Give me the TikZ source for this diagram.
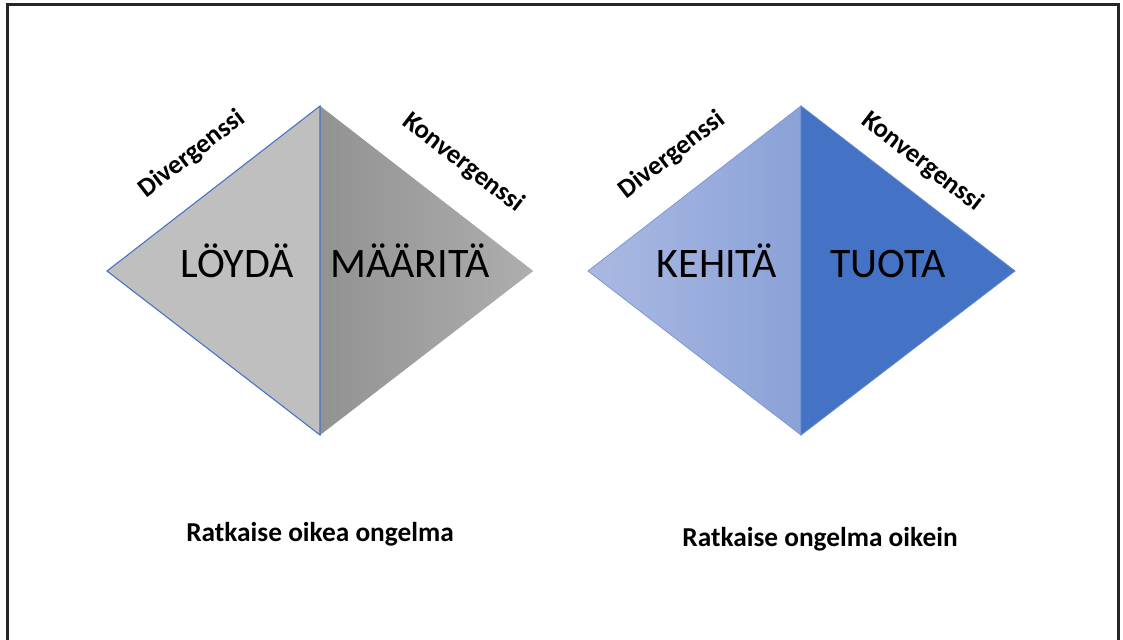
\documentclass[tikz,border=0pt]{standalone}
\usepackage{fontspec}
\setmainfont{Carlito}
\definecolor{greyLight}{HTML}{BFBFBF}
\definecolor{greyDark}{HTML}{929292}
\definecolor{greyMid}{HTML}{AEAEAE}
\definecolor{accent}{HTML}{4472C4}
\definecolor{paleA}{HTML}{AAB9E2}
\definecolor{paleB}{HTML}{8BA2D8}
\begin{document}
\begin{tikzpicture}[x=0.75pt,y=-0.75pt,
  phase/.style={font=\fontsize{31.5}{36}\selectfont, text=black, inner sep=0pt, anchor=base},
  slope/.style={font=\bfseries\fontsize{20}{24}\selectfont, inner sep=0pt},
  caption/.style={font=\bfseries\fontsize{20.5}{24}\selectfont, inner sep=0pt}]
\useasboundingbox (0,0) rectangle (1123,639);
\fill[white] (0,0) rectangle (1123,639);
% outer frame, open at the bottom
\draw[line width=1.6pt, black!85] (7.5,650) -- (7.5,4.5) -- (1118.5,4.5) -- (1118.5,650);

% first diamond
\coordinate (aL) at (107,271);
\coordinate (aT) at (320,106);
\coordinate (aB) at (320,435);
\coordinate (aR) at (533,271);
% soft drop shadow under the right half
\foreach \s in {1,...,6}
  \fill[black, opacity=0.045, shift={(\s*0.8,\s*0.8)}] (aT) -- (aR) -- (aB) -- cycle;
\path[left color=greyDark, right color=greyMid] (aT) -- (aR) -- (aB) -- cycle;
\filldraw[fill=greyLight, draw=accent, line width=0.8pt] (aT) -- (aL) -- (aB) -- cycle;

% second diamond
\coordinate (bL) at (588,271);
\coordinate (bT) at (801,106);
\coordinate (bB) at (801,435);
\coordinate (bR) at (1015,271);
\path[left color=paleA, right color=paleB, draw=paleB!80!accent, line width=0.6pt] (bT) -- (bL) -- (bB) -- cycle;
\filldraw[fill=accent, draw=accent!85!white, line width=0.6pt] (bT) -- (bR) -- (bB) -- cycle;

% phase names
\node[phase] (find) at (237,277) {LÖYDÄ};
\node[phase] (define) at (410,277) {MÄÄRITÄ};
\node[phase] (develop) at (717,277) {KEHITÄ};
\node[phase] (deliver) at (888,277) {TUOTA};

% edge labels
\node[slope, rotate=37.6] (divA) at (192,154) {Divergenssi};
\node[slope, rotate=-37.6] (konA) at (463,163) {Konvergenssi};
\node[slope, rotate=37.6] (divB) at (672,155) {Divergenssi};
\node[slope, rotate=-37.6] (konB) at (922,162) {Konvergenssi};

% captions
\node[caption] (capA) at (320,534) {Ratkaise oikea ongelma};
\node[caption] (capB) at (820,539) {Ratkaise ongelma oikein};
\end{tikzpicture}
\end{document}
